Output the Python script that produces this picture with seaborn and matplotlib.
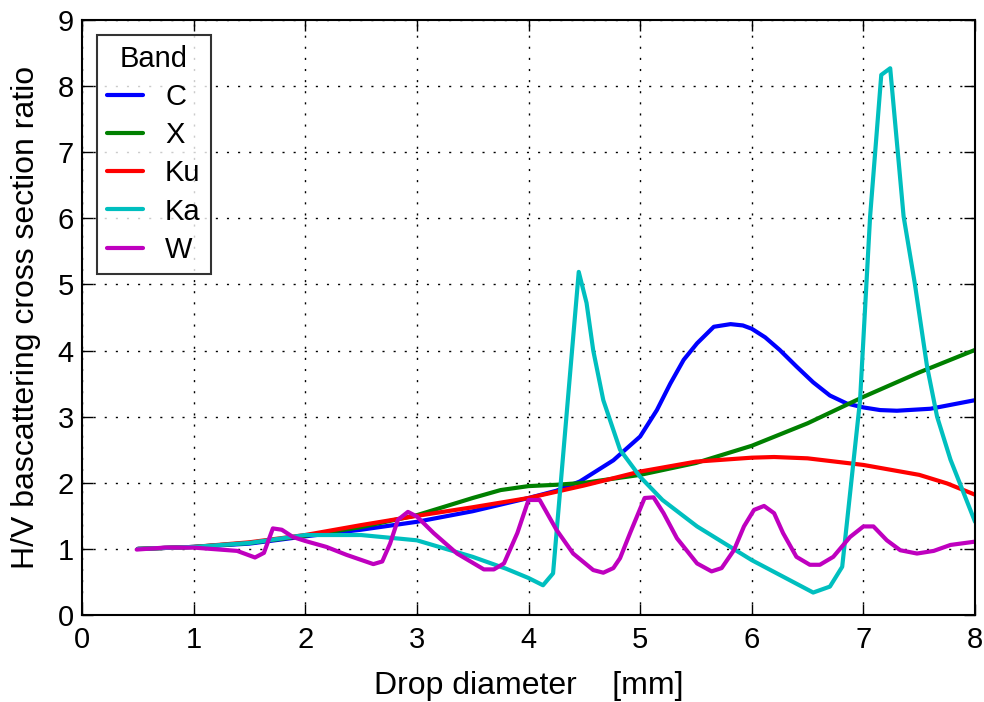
import matplotlib
matplotlib.use("Agg")
import matplotlib.pyplot as plt
import numpy as np
import pandas as pd
import seaborn as sns

# Drop diameter [mm] and H/V ratio for each radar band
c_d = [0.5, 1.0, 1.5, 2.0, 2.5, 3.0, 3.5, 4.0, 4.25, 4.46, 4.76, 5.0, 5.15, 5.27, 5.39,
       5.51, 5.66, 5.81, 5.92, 6.0, 6.12, 6.25, 6.4, 6.55, 6.7, 6.85, 7.0, 7.15, 7.3,
       7.6, 8.0]
c_r = [1.0, 1.03, 1.08, 1.19, 1.29, 1.41, 1.57, 1.77, 1.88, 2.02, 2.34, 2.70, 3.1, 3.5,
       3.86, 4.11, 4.36, 4.40, 4.38, 4.33, 4.2, 4.01, 3.76, 3.52, 3.32, 3.2, 3.14,
       3.1, 3.09, 3.12, 3.25]

x_d = [0.5, 1.0, 1.5, 2.0, 2.5, 3.0, 3.25, 3.5, 3.75, 4.0, 4.25, 4.5, 5.0, 5.5, 6.0,
       6.5, 7.0, 7.5, 8.0]
x_r = [1.0, 1.03, 1.09, 1.2, 1.33, 1.51, 1.64, 1.77, 1.89, 1.95, 1.97, 2.0, 2.12, 2.3,
       2.56, 2.9, 3.3, 3.67, 4.01]

ku_d = [0.5, 1.0, 1.5, 2.0, 2.5, 3.0, 3.5, 4.0, 4.5, 5.0, 5.5, 6.0, 6.2, 6.5, 7.0,
        7.5, 7.75, 8.0]
ku_r = [1.0, 1.03, 1.1, 1.21, 1.36, 1.50, 1.63, 1.77, 1.96, 2.17, 2.32, 2.38, 2.39,
        2.37, 2.27, 2.12, 1.99, 1.82]

ka_d = [0.5, 1.0, 1.5, 1.75, 2.0, 2.5, 3.0, 3.5, 3.8, 4.0, 4.13, 4.22, 4.45, 4.52,
        4.58, 4.67, 4.82, 5.0, 5.2, 5.51, 6.0, 6.55, 6.70, 6.81, 6.97, 7.06, 7.16,
        7.24, 7.36, 7.46, 7.57, 7.66, 7.78, 8.0]
ka_r = [1.0, 1.03, 1.09, 1.15, 1.21, 1.21, 1.13, 0.88, 0.7, 0.56, 0.45, 0.63, 5.19,
        4.72, 4.0, 3.25, 2.5, 2.09, 1.74, 1.34, 0.83, 0.34, 0.43, 0.73, 3.25, 6.03,
        8.17, 8.27, 6.03, 5.02, 3.76, 3.0, 2.35, 1.41]

w_d = [0.49, 0.74, 1.0, 1.39, 1.55, 1.63, 1.71, 1.79, 1.89, 2.0, 2.19, 2.37, 2.61,
       2.69, 2.76, 2.83, 2.92, 3.0, 3.15, 3.36, 3.60, 3.69, 3.78, 3.90, 4.0, 4.10,
       4.25, 4.40, 4.58, 4.67, 4.76, 4.82, 4.91, 5.04, 5.12, 5.21, 5.33, 5.51, 5.64,
       5.73, 5.84, 5.93, 6.02, 6.11, 6.20, 6.28, 6.40, 6.52, 6.61, 6.73, 6.88, 7.0,
       7.09, 7.21, 7.33, 7.48, 7.63, 7.78, 8.0]
w_r = [0.99, 1.02, 1.02, 0.97, 0.87, 0.94, 1.31, 1.29, 1.18, 1.12, 1.03, 0.91, 0.77,
       0.81, 1.08, 1.44, 1.56, 1.49, 1.24, 0.93, 0.69, 0.69, 0.78, 1.24, 1.74, 1.74,
       1.29, 0.93, 0.68, 0.64, 0.71, 0.86, 1.24, 1.77, 1.78, 1.54, 1.16, 0.78, 0.66,
       0.71, 0.98, 1.34, 1.59, 1.65, 1.54, 1.24, 0.88, 0.76, 0.76, 0.88, 1.18, 1.34,
       1.34, 1.13, 0.98, 0.93, 0.97, 1.06, 1.11]

bands = ["C", "X", "Ku", "Ka", "W"]
colors = {"C": (0, 0, 1), "X": (0, 0.5, 0), "Ku": (1, 0, 0),
          "Ka": (0, 0.75, 0.75), "W": (0.75, 0, 0.75)}

series = {"C": (c_d, c_r), "X": (x_d, x_r), "Ku": (ku_d, ku_r),
          "Ka": (ka_d, ka_r), "W": (w_d, w_r)}
df = pd.concat(
    [pd.DataFrame({"diameter": d, "ratio": r, "Band": b})
     for b, (d, r) in series.items()],
    ignore_index=True,
)

sns.set_style("white")
plt.rcParams["font.family"] = ["Liberation Sans", "DejaVu Sans"]
plt.rcParams.update({"text.color": "k", "axes.labelcolor": "k",
                     "xtick.color": "k", "ytick.color": "k"})

fig = plt.figure(figsize=(9.84, 7.02), dpi=100)
ax = fig.add_axes([0.0833, 0.1239, 0.9076, 0.8476])

sns.lineplot(data=df, x="diameter", y="ratio", hue="Band", hue_order=bands,
             palette=colors, linewidth=3, estimator=None, ax=ax)

ax.set_xlim(0, 8)
ax.set_ylim(0, 9)
ax.set_xticks(range(0, 9))
ax.set_yticks(range(0, 10))
ax.grid(True, color="k", linewidth=1, linestyle=(0, (1.5, 6.5)))
for s in ax.spines.values():
    s.set_linewidth(1.5)
    s.set_color("k")
ax.tick_params(direction="in", length=8, width=1, labelsize=21,
               top=True, right=True, bottom=True, left=True)
ax.tick_params(axis="x", pad=8)
ax.tick_params(axis="y", pad=6)

ax.set_xlabel("Drop diameter    [mm]", fontsize=23, labelpad=12)
ax.set_ylabel("H/V bascattering cross section ratio", fontsize=23, labelpad=12)

leg = ax.legend(title="Band", loc="upper left", fontsize=21, title_fontsize=21,
                frameon=True, fancybox=False, handlelength=1.25, handletextpad=0.75,
                labelspacing=0.35, borderaxespad=0.5, borderpad=0.35)
leg.get_frame().set_edgecolor("k")
leg.get_frame().set_linewidth(1.5)
for line in leg.get_lines():
    line.set_linewidth(3)

fig.savefig("out.png", dpi=100)
